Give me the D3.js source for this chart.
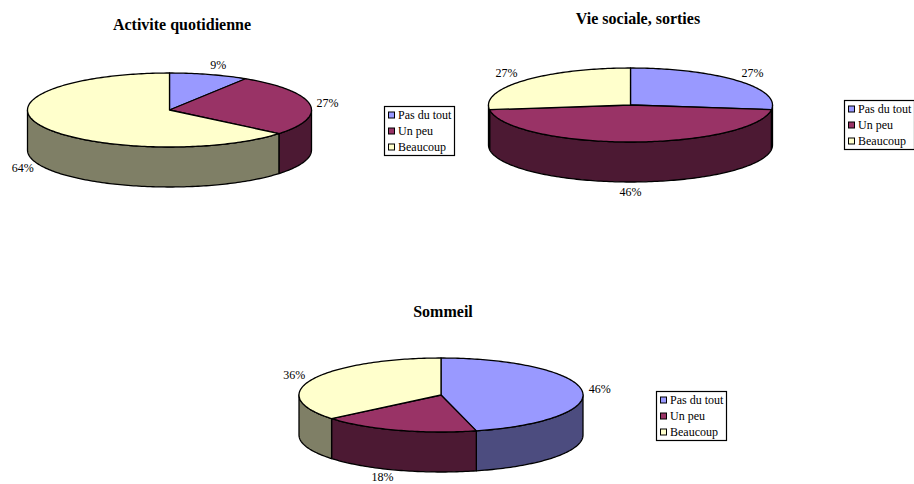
<!DOCTYPE html>
<html>
<head>
<meta charset="utf-8">
<script src="https://cdnjs.cloudflare.com/ajax/libs/d3/7.8.5/d3.min.js"></script>
<style>
html, body { margin: 0; padding: 0; background: #fff; }
svg { display: block; }
text { font-family: "Liberation Serif", serif; fill: #000; }
</style>
</head>
<body>
<div id="chart"></div>
<script>
var categories = ["Pas du tout", "Un peu", "Beaucoup"];
var activiteValues = [9, 27, 64];
var vieSocialeValues = [27, 46, 27];
var sommeilValues = [46, 18, 36];

var topColors = ["#9999ff", "#993366", "#ffffcc"];
var sideColors = ["#4c4c7f", "#4c1933", "#7f7f66"];

// where each pie sits on the page, [dx, dy] are per label tweaks
var charts = [
    { title: "Activite quotidienne", values: activiteValues, cx: 169.5, cy: 110, titleX: 182, titleY: 30,
      legendX: 384.5, legendY: 106.5, nudge: [[4, 0], [0, 0], [-2, -2]] },
    { title: "Vie sociale, sorties", values: vieSocialeValues, cx: 630.5, cy: 105, titleX: 638, titleY: 24,
      legendX: 844.5, legendY: 100.5, nudge: [[2, -1], [0, 0], [-4, -1]] },
    { title: "Sommeil", values: sommeilValues, cx: 441, cy: 395, titleX: 443, titleY: 317,
      legendX: 656.5, legendY: 391.5, nudge: [[0, 0], [-9, -2.5], [-2, 0]] }
];

var w = 914;
var h = 484;
var rx = 142;
var ry = 37;
var depth = 40;
var legendW = 70;
var legendH = 49;

var svg = d3.select("#chart")
            .append("svg")
            .attr("width", w)
            .attr("height", h);

var pie = d3.pie().sort(null);

var colorTop = d3.scaleOrdinal().domain(categories).range(topColors);
var colorSide = d3.scaleOrdinal().domain(categories).range(sideColors);

var line = d3.line();

// point on the rim, angle is clockwise from 12 o'clock
function rim(c, a, drop) {
    return [c.cx + rx * Math.sin(a), c.cy - ry * Math.cos(a) + drop];
}

function rimPoints(c, a0, a1, drop) {
    var n = Math.max(2, Math.ceil(Math.abs(a1 - a0) / 0.02));
    return d3.range(n + 1).map(function(i) {
        return rim(c, a0 + (a1 - a0) * i / n, drop);
    });
}

charts.forEach(function(c) {
    var g = svg.append("g");
    var slices = pie(c.values);

    // Side walls, only the front half of the rim can be seen
    slices.forEach(function(d, i) {
        var a0 = Math.max(d.startAngle, Math.PI / 2);
        var a1 = Math.min(d.endAngle, Math.PI * 1.5);
        if (a1 <= a0) return;
        var pts = rimPoints(c, a0, a1, 0).concat(rimPoints(c, a1, a0, depth));
        g.append("path")
            .attr("d", line(pts) + "Z")
            .attr("fill", colorSide(categories[i]))
            .attr("stroke", "#000")
            .attr("stroke-width", 1.3)
            .attr("stroke-linejoin", "round");
    });

    // Top of the pie
    slices.forEach(function(d, i) {
        var pts = [[c.cx, c.cy]].concat(rimPoints(c, d.startAngle, d.endAngle, 0));
        g.append("path")
            .attr("d", line(pts) + "Z")
            .attr("fill", colorTop(categories[i]))
            .attr("stroke", "#000")
            .attr("stroke-width", 1.3)
            .attr("stroke-linejoin", "round");
    });

    // Percent labels
    slices.forEach(function(d, i) {
        var mid = (d.startAngle + d.endAngle) / 2;
        var front = Math.cos(mid) < -0.3;
        var p = rim(c, mid, front ? depth : 0);
        g.append("text")
            .attr("x", p[0] + 18 * Math.sin(mid) + c.nudge[i][0])
            .attr("y", p[1] - 10 * Math.cos(mid) + c.nudge[i][1] + 4)
            .attr("text-anchor", "middle")
            .attr("font-size", 12)
            .attr("fill", "#222")
            .text(d.value + "%");
    });

    g.append("text")
        .attr("x", c.titleX)
        .attr("y", c.titleY)
        .attr("text-anchor", "middle")
        .attr("font-size", 16)
        .attr("font-weight", "bold")
        .text(c.title);

    // Legend
    var legend = g.append("g")
        .attr("transform", "translate(" + c.legendX + "," + c.legendY + ")");

    legend.append("rect")
        .attr("width", legendW)
        .attr("height", legendH)
        .attr("fill", "#fff")
        .attr("stroke", "#000")
        .attr("stroke-width", 1.2);

    var row = d3.scalePoint()
        .domain(categories)
        .range([8.5, 40.5]);

    categories.forEach(function(name) {
        legend.append("rect")
            .attr("x", 4)
            .attr("y", row(name) - 3)
            .attr("width", 6)
            .attr("height", 6)
            .attr("fill", colorTop(name))
            .attr("stroke", "#000")
            .attr("stroke-width", 1);
        legend.append("text")
            .attr("x", 13.5)
            .attr("y", row(name) + 3.5)
            .attr("font-size", 12)
            .attr("fill", "#222")
            .text(name);
    });
});
</script>
</body>
</html>
